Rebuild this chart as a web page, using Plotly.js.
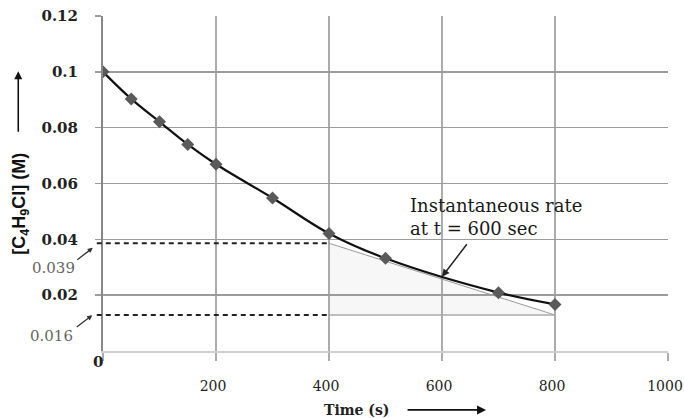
<!DOCTYPE html>
<html>
<head>
<meta charset="utf-8">
<script src="https://cdn.plot.ly/plotly-3.0.1.min.js"></script>
<style>html,body{margin:0;padding:0;background:#fff;}#chart{width:684px;height:418px;}</style>
</head>
<body>
<div id="chart"></div>
<script>
// Data
const timeS = [0, 50, 100, 150, 200, 300, 400, 500, 700, 800];
const concM = [0.1000, 0.0903, 0.0821, 0.0740, 0.0669, 0.0548, 0.0421, 0.0332, 0.0209, 0.0167];
// Tangent line at t = 600 s (as drawn)
const tangentT = [400, 800];
const tangentC = [0.0386, 0.0129];
const guideLabels = ['0.039', '0.016'];
// Axes
const xTickVals = [0, 200, 400, 600, 800, 1000];
const xTickText = ['', '200', '400', '600', '800', '1000'];
const yTickVals = [0.02, 0.04, 0.06, 0.08, 0.10, 0.12];
const yTickText = ['0.02', '0.04', '0.06', '0.08', '0.1', '0.12'];
const xRange = [0, 1000];
const yRange = [0, 0.12];

const serif = 'DejaVu Serif, serif';

const traces = [
  {
    x: tangentT, y: tangentC, mode: 'lines', type: 'scatter',
    line: {color: '#9a9a9a', width: 1}, hoverinfo: 'skip'
  },
  {
    x: [tangentT[0], tangentT[1]], y: [tangentC[1], tangentC[1]], mode: 'lines', type: 'scatter',
    line: {color: '#a8a8a8', width: 1.5}, hoverinfo: 'skip'
  },
  {
    x: timeS, y: concM, mode: 'lines+markers', type: 'scatter',
    line: {color: '#111', width: 2.2, shape: 'spline', smoothing: 1},
    marker: {symbol: 'diamond', size: 10, color: '#5a5a5a'}
  }
];

const pxPaper = (t) => (t - xRange[0]) / (xRange[1] - xRange[0]);

const shapes = [
  {
    type: 'path', xref: 'x', yref: 'y', layer: 'below',
    path: 'M ' + tangentT[0] + ',' + tangentC[0] + ' L ' + tangentT[0] + ',' + tangentC[1] +
          ' L ' + tangentT[1] + ',' + tangentC[1] + ' Z',
    fillcolor: '#f7f7f7', line: {width: 0}
  },
  {
    type: 'line', xref: 'paper', yref: 'y', x0: -0.011, x1: pxPaper(tangentT[0]),
    y0: tangentC[0], y1: tangentC[0], line: {color: '#222', width: 2, dash: '5px,4px'}
  },
  {
    type: 'line', xref: 'paper', yref: 'y', x0: -0.011, x1: pxPaper(tangentT[0]),
    y0: tangentC[1], y1: tangentC[1], line: {color: '#222', width: 2, dash: '5px,4px'}
  }
];

const annotations = [
  // origin label
  {xref: 'paper', yref: 'paper', x: -0.008, y: -0.034, xanchor: 'center', yanchor: 'middle',
   text: '0', showarrow: false,
   font: {family: serif, size: 15, color: '#222', weight: 'bold'}},
  // guide value labels
  {xref: 'paper', yref: 'paper', x: -0.088, y: 0.247, xanchor: 'center', yanchor: 'middle',
   text: guideLabels[0], showarrow: false,
   font: {family: serif, size: 15, color: '#666'}},
  {xref: 'paper', yref: 'paper', x: -0.091, y: 0.044, xanchor: 'center', yanchor: 'middle',
   text: guideLabels[1], showarrow: false,
   font: {family: serif, size: 15, color: '#666'}},
  {xref: 'paper', yref: 'paper', x: -0.018, y: 0.308, ax: -17, ay: 13, text: '', showarrow: true,
   arrowhead: 2, arrowsize: 0.8, arrowwidth: 1.3, arrowcolor: '#333', standoff: 0},
  {xref: 'paper', yref: 'paper', x: -0.019, y: 0.107, ax: -17, ay: 13, text: '', showarrow: true,
   arrowhead: 2, arrowsize: 0.8, arrowwidth: 1.3, arrowcolor: '#333', standoff: 0},
  // instantaneous rate label
  {xref: 'x', yref: 'y', x: 540, y: 0.0566, xanchor: 'left', yanchor: 'top', align: 'left',
   text: 'Instantaneous rate<br>at t = 600 sec', showarrow: false,
   font: {family: serif, size: 18, color: '#1a1a1a'}},
  {xref: 'x', yref: 'y', x: 600, y: 0.0266, ax: 26, ay: -34, text: '', showarrow: true,
   arrowhead: 2, arrowsize: 1, arrowwidth: 1.5, arrowcolor: '#222', standoff: 0},
  // y title
  {xref: 'paper', yref: 'paper', x: -0.145, y: 0.44, xanchor: 'center', yanchor: 'middle',
   textangle: -90, showarrow: false,
   text: '[C<sub>4</sub>H<sub>9</sub>Cl] (M)',
   font: {family: 'Liberation Sans, Arial, sans-serif', size: 18, color: '#111', weight: 'bold'}},
  {xref: 'paper', yref: 'paper', x: -0.15, y: 0.835, ax: 0, ay: 62, text: '', showarrow: true,
   arrowhead: 2, arrowsize: 1, arrowwidth: 1.6, arrowcolor: '#111', standoff: 0},
  // x title
  {xref: 'paper', yref: 'paper', x: 0.449, y: -0.176, xanchor: 'center', yanchor: 'middle',
   text: 'Time (s)', showarrow: false,
   font: {family: serif, size: 14, color: '#222', weight: 'bold'}},
  {xref: 'paper', yref: 'paper', x: 0.678, y: -0.176, ax: -80, ay: 0, text: '', showarrow: true,
   arrowhead: 2, arrowsize: 1, arrowwidth: 1.8, arrowcolor: '#111', standoff: 0}
];

const layout = {
  width: 684, height: 418,
  margin: {l: 103, r: 16, t: 16, b: 67},
  paper_bgcolor: '#fff', plot_bgcolor: '#fff',
  showlegend: false,
  xaxis: {
    range: xRange, autorange: false, tickvals: xTickVals, ticktext: xTickText,
    showgrid: true, gridcolor: '#ababab', gridwidth: 1.2,
    ticks: 'outside', ticklen: 8, tickcolor: '#ababab', tickwidth: 1.2,
    showline: true, linecolor: '#cfcfcf', linewidth: 1.5, zeroline: false,
    ticklabelstandoff: 14, ticklabelshift: -3, ticklabeloverflow: 'allow',
    tickfont: {family: serif, size: 14, color: '#222'}
  },
  yaxis: {
    range: yRange, autorange: false, tickvals: yTickVals, ticktext: yTickText,
    showgrid: true, gridcolor: '#9c9c9c', gridwidth: 1.4,
    ticks: 'outside', ticklen: 6, tickcolor: '#9c9c9c', tickwidth: 1.4,
    showline: true, linecolor: '#888', linewidth: 2, zeroline: false,
    ticklabelstandoff: 14,
    tickfont: {family: serif, size: 15, color: '#222', weight: 'bold'}
  },
  shapes: shapes,
  annotations: annotations
};

Plotly.newPlot('chart', traces, layout, {staticPlot: true, displayModeBar: false});
</script>
</body>
</html>
